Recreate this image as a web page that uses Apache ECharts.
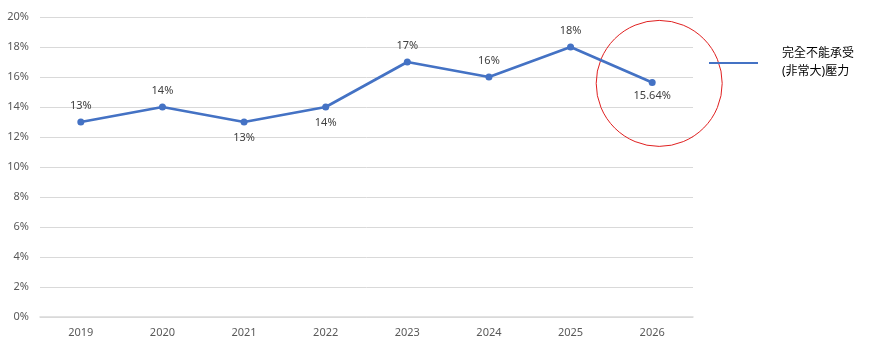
<!DOCTYPE html>
<html><head><meta charset="utf-8">
<script src="https://cdn.jsdelivr.net/npm/echarts@6/dist/echarts.min.js"></script>
<style>html,body{margin:0;padding:0;background:#fff;}#c{width:871px;height:357px;}</style>
</head><body><div id="c"></div>
<script>
const categories = ['2019','2020','2021','2022','2023','2024','2025','2026'];
const values = [13, 14, 13, 14, 17, 16, 18, 15.64];
const labelPos = ['top','top','bottom','bottom','top','top','top','bottom'];
const seriesName = '完全不能承受\n(非常大)壓力';
const yTicks = [0,2,4,6,8,10,12,14,16,18,20];

const font = '"Noto Sans", "Noto Sans CJK TC", sans-serif';
const chart = echarts.init(document.getElementById('c'));
chart.setOption({
  backgroundColor: '#fff',
  animation: false,
  textStyle: {fontFamily: font},
  grid: {left: 40, right: 178, top: 17, bottom: 40},
  legend: {
    left: 704, top: 40, orient: 'vertical',
    icon: 'rect', itemWidth: 49, itemHeight: 2, itemGap: 10,
    textStyle: {fontSize: 12, color: '#000', lineHeight: 18, fontFamily: font, padding: [0,0,0,19]},
    data: [seriesName]
  },
  xAxis: {
    type: 'category', data: categories, boundaryGap: true,
    axisLine: {lineStyle: {color: '#d9d9d9', width: 1.5}},
    axisTick: {show: false},
    axisLabel: {color: '#595959', fontSize: 11, margin: 10}
  },
  yAxis: {
    type: 'value', min: yTicks[0], max: yTicks[yTicks.length-1], interval: 2,
    axisLine: {show: false}, axisTick: {show: false},
    axisLabel: {color: '#595959', fontSize: 11, margin: 11, formatter: v => v + '%'},
    splitLine: {lineStyle: {color: '#d9d9d9', width: 1}}
  },
  series: [{
    name: seriesName, type: 'line',
    data: values.map((v,i) => ({value: v, label: {position: labelPos[i], distance: i === values.length-1 ? 4 : 7}})),
    symbol: 'circle', symbolSize: 7,
    lineStyle: {color: '#4472C4', width: 2.75},
    itemStyle: {color: '#4472C4'},
    label: {show: true, color: '#404040', fontSize: 11, distance: 7,
      formatter: p => p.value + '%'}
  }]
});
const c = chart.convertToPixel({xAxisIndex:0, yAxisIndex:0}, [categories.length-1, values[values.length-1]]);
chart.setOption({graphic: [{
  type: 'circle', shape: {cx: c[0] + 7, cy: c[1] + 1, r: 63},
  style: {fill: 'none', stroke: '#e02020', lineWidth: 1}, silent: true
}]});
</script></body></html>
